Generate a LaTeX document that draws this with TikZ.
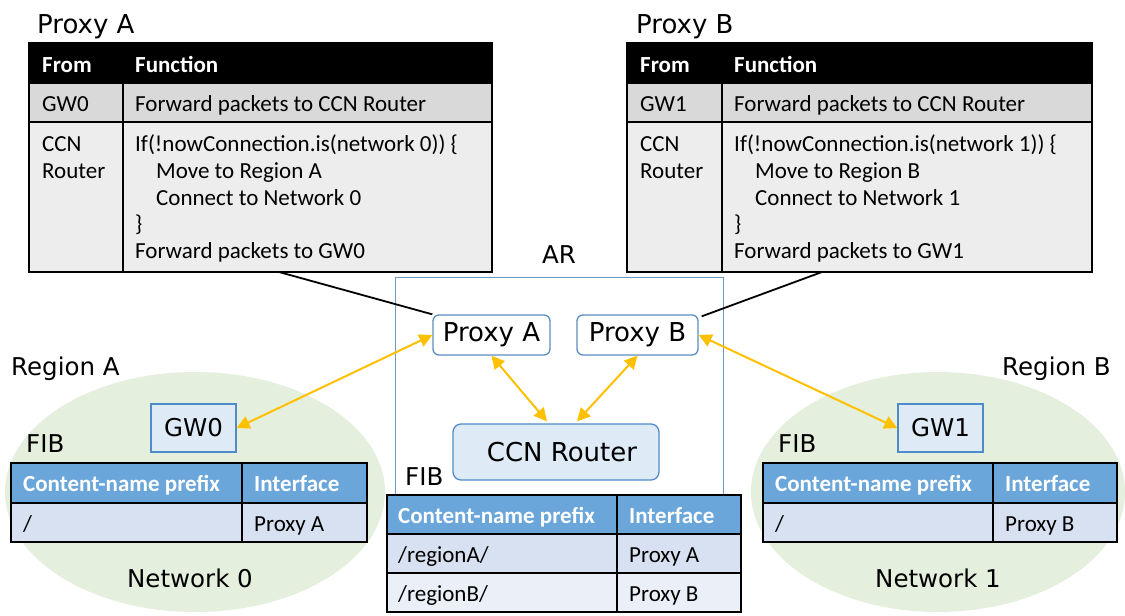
\documentclass[tikz,border=0pt]{standalone}
\usepackage{fontspec}
\setmainfont{Carlito}
\newfontfamily\lblfont{DejaVu Sans}
\usetikzlibrary{arrows.meta,calc}

\definecolor{rowdark}{HTML}{D9D9D9}
\definecolor{rowlight}{HTML}{EDEDED}
\definecolor{fibhead}{HTML}{6AA6DA}
\definecolor{fibrowA}{HTML}{D8E1F1}
\definecolor{fibrowB}{HTML}{EAEFF8}
\definecolor{regionfill}{HTML}{E5EFDD}
\definecolor{boxfill}{HTML}{DEEBF7}
\definecolor{boxline}{HTML}{4F8BC9}
\definecolor{proxyline}{HTML}{5B8EC4}
\definecolor{arline}{HTML}{6F97C2}
\definecolor{flow}{HTML}{FFC000}

\begin{document}
\begin{tikzpicture}[x=1pt,y=-1pt,
  tabline/.style={line width=1.7pt,black},
  cell/.style={anchor=base west,inner sep=0pt,font=\fontsize{23}{27}\selectfont},
  headcell/.style={cell,text=white,font=\fontsize{23}{27}\selectfont\bfseries},
  lbl/.style={inner sep=0pt,font=\lblfont\fontsize{24.5}{28}\selectfont},
  biglbl/.style={inner sep=0pt,font=\lblfont\fontsize{26}{30}\selectfont},
  proxynode/.style={biglbl,draw=proxyline,line width=1.3pt,fill=white,rounded corners=6pt,minimum height=40pt},
  ccnnode/.style={biglbl,draw=boxline,line width=1.3pt,fill=boxfill,rounded corners=8pt},
  gwnode/.style={lbl,draw=boxline,line width=1.3pt,fill=boxfill},
  link/.style={line width=1.8pt,black},
  flowarrow/.style={line width=2pt,flow,{Triangle[length=13pt,width=13pt]}-{Triangle[length=13pt,width=13pt]}}
]
\useasboundingbox (0,0) rectangle (1125,616);

% regions (networks)
\fill[regionfill] (195,492) ellipse [x radius=190pt, y radius=120pt];
\fill[regionfill] (938,492) ellipse [x radius=187pt, y radius=120pt];

% access router frame
\node[draw=arline,line width=1.1pt,minimum width=328pt,minimum height=335pt,anchor=north west,inner sep=0pt] (ar) at (395,277) {};
\node[lbl,anchor=base] (arlbl) at (559,263) {AR};

% ---------- FIB of network 0 ----------
\fill[fibhead] (11,463) rectangle (367,503);
\fill[fibrowA] (11,503) rectangle (367,542);
\draw[tabline] (11,463) rectangle (367,542) (11,503) -- (367,503) (242,463) -- (242,542);
\node[headcell] (f0h1) at (23,491.7) {Content-name prefix};
\node[headcell] (f0h2) at (254,491.7) {Interface};
\node[cell] (f0r1) at (23,531.5) {/};
\node[cell] (f0r2) at (254,531.5) {Proxy A};

% ---------- FIB of network 1 ----------
\fill[fibhead] (763,463) rectangle (1117,503);
\fill[fibrowA] (763,503) rectangle (1117,542);
\draw[tabline] (763,463) rectangle (1117,542) (763,503) -- (1117,503) (993,463) -- (993,542);
\node[headcell] (f1h1) at (775,491.7) {Content-name prefix};
\node[headcell] (f1h2) at (1005,491.7) {Interface};
\node[cell] (f1r1) at (775,531.5) {/};
\node[cell] (f1r2) at (1005,531.5) {Proxy B};

% ---------- FIB of the CCN router ----------
\fill[fibhead] (387,495) rectangle (741,534);
\fill[fibrowA] (387,534) rectangle (741,573);
\fill[fibrowB] (387,573) rectangle (741,612);
\draw[tabline] (387,495) rectangle (741,612) (387,534) -- (741,534) (387,573) -- (741,573) (617,495) -- (617,612);
\node[headcell] (frh1) at (398,523.5) {Content-name prefix};
\node[headcell] (frh2) at (629,523.5) {Interface};
\node[cell] (frr1) at (398,562.5) {/regionA/};
\node[cell] (frr2) at (629,562.5) {Proxy A};
\node[cell] (frr3) at (398,601.5) {/regionB/};
\node[cell] (frr4) at (629,601.5) {Proxy B};

% ---------- Proxy A function table ----------
\fill[black] (29,43) rectangle (492,83);
\fill[rowdark] (29,83) rectangle (492,122);
\fill[rowlight] (29,122) rectangle (492,272);
\draw[tabline] (29,43) rectangle (492,272) (29,83) -- (492,83) (29,122) -- (492,122) (123,83) -- (123,272);
\node[headcell] (pah1) at (42,72.5) {From};
\node[headcell] (pah2) at (135,72.5) {Function};
\node[cell] (pa11) at (42,111.5) {GW0};
\node[cell] (pa12) at (135,111.5) {Forward packets to CCN Router};
\node[cell] (pa21) at (42,151.5) {CCN};
\node[cell] (pa22) at (42,178.3) {Router};
\node[cell] (pac1) at (135,151.5) {If(!nowConnection.is(network 0)) \{};
\node[cell] (pac2) at (156,178.3) {Move to Region A};
\node[cell] (pac3) at (156,205.1) {Connect to Network 0};
\node[cell] (pac4) at (135,231.9) {\}};
\node[cell] (pac5) at (135,258.7) {Forward packets to GW0};
\node[biglbl,anchor=base west] (patitle) at (37,33) {Proxy A};

% ---------- Proxy B function table ----------
\fill[black] (627,43) rectangle (1092,83);
\fill[rowdark] (627,83) rectangle (1092,122);
\fill[rowlight] (627,122) rectangle (1092,272);
\draw[tabline] (627,43) rectangle (1092,272) (627,83) -- (1092,83) (627,122) -- (1092,122) (722,83) -- (722,272);
\node[headcell] (pbh1) at (640,72.5) {From};
\node[headcell] (pbh2) at (734,72.5) {Function};
\node[cell] (pb11) at (640,111.5) {GW1};
\node[cell] (pb12) at (734,111.5) {Forward packets to CCN Router};
\node[cell] (pb21) at (640,151.5) {CCN};
\node[cell] (pb22) at (640,178.3) {Router};
\node[cell] (pbc1) at (734,151.5) {If(!nowConnection.is(network 1)) \{};
\node[cell] (pbc2) at (755,178.3) {Move to Region B};
\node[cell] (pbc3) at (755,205.1) {Connect to Network 1};
\node[cell] (pbc4) at (734,231.9) {\}};
\node[cell] (pbc5) at (734,258.7) {Forward packets to GW1};
\node[biglbl,anchor=base west] (pbtitle) at (636,33) {Proxy B};

% ---------- nodes ----------
\node[proxynode,minimum width=117pt] (pxa) at (491.5,335) {Proxy A};
\node[proxynode,minimum width=121pt] (pxb) at (637.5,335) {Proxy B};
\node[ccnnode,minimum width=206pt,minimum height=56pt] (ccn) at (556,452) {\hspace{12pt}CCN Router};
\node[gwnode,minimum width=85pt,minimum height=48pt] (gw0) at (193.5,428) {GW0};
\node[gwnode,minimum width=85pt,minimum height=48pt] (gw1) at (940.5,428) {GW1};

% region and table labels
\node[lbl,anchor=base west] (rega) at (11,375) {Region A};
\node[lbl,anchor=base west] (regb) at (1002,375) {Region B};
\node[lbl,anchor=base west] (fib0) at (26,452) {FIB};
\node[lbl,anchor=base west] (fib1) at (778,452) {FIB};
\node[lbl,anchor=base west] (fibr) at (405,485.5) {FIB};
\node[lbl,anchor=base] (net0) at (190,587) {Network 0};
\node[lbl,anchor=base] (net1) at (938,587) {Network 1};

% ---------- connectors ----------
\coordinate (pafoot) at (279,272);
\coordinate (pbfoot) at (822,272);
\draw[link] (pafoot) -- (pxa.north west);
\draw[link] (pbfoot) -- ($(pxb.north east)+(3,2)$);

\draw[flowarrow] (gw0.east) -- (pxa.west);
\draw[flowarrow] (pxa.south) -- ($(ccn.north)+(-9,-2)$);
\draw[flowarrow] (pxb.south) -- ($(ccn.north)+(21,-2)$);
\draw[flowarrow] (pxb.east) -- (gw1.west);
\end{tikzpicture}
\end{document}
